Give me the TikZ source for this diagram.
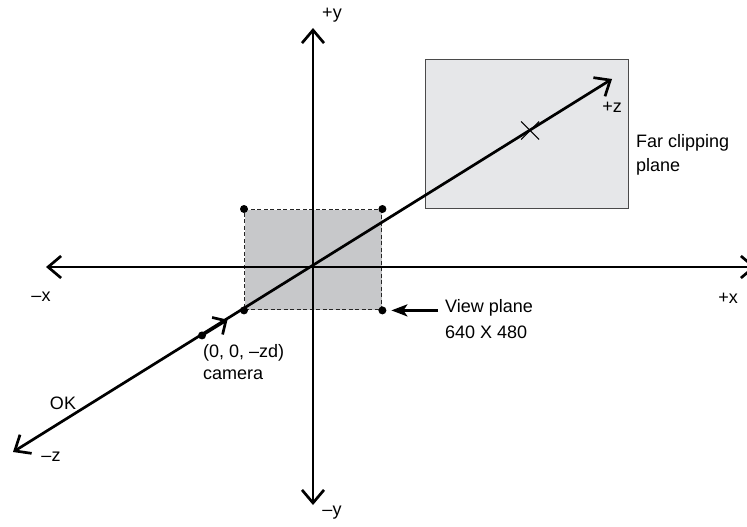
\documentclass[tikz,border=0pt]{standalone}
\usepackage{fontspec}
\setmainfont{Liberation Sans}
\usetikzlibrary{arrows.meta,calc}
\definecolor{nearfill}{HTML}{C7C8CA}
\definecolor{farfill}{HTML}{E6E7E9}
\definecolor{farline}{HTML}{4A4A4A}
\begin{document}
\begin{tikzpicture}[x=1pt,y=-1pt,
  axis/.style={line width=2.7pt, {Straight Barb[length=13pt,width=22pt]}-{Straight Barb[length=13pt,width=22pt]}},
  lbl/.style={inner sep=0pt, font=\fontsize{18}{24}\selectfont},
  dot/.style={circle, fill=black, inner sep=0pt, minimum size=8pt},
  nearplane/.style={draw=black!85, fill=nearfill, line width=1.4pt, dash pattern=on 4pt off 2.5pt, inner sep=0pt, minimum width=137pt, minimum height=100pt, anchor=north west},
  farplane/.style={draw=farline, fill=farfill, line width=1.4pt, inner sep=0pt, minimum width=203pt, minimum height=149pt, anchor=north west},
]
\useasboundingbox (0,0) rectangle (747,527);
% planes
\node[farplane] (far) at (425,59) {};
\node[nearplane] (near) at (244,209) {};
% axis end points
\coordinate (O) at (313,267);
\coordinate (ytop) at (313,28);
\coordinate (ybot) at (313,505);
\coordinate (xl) at (46,267);
\coordinate (xr) at (756,267);
\coordinate (zp) at (612,79);
\coordinate (zm) at (13,452);
% axes
\draw[axis] (xl) -- (xr);
\draw[axis] (ybot) -- (ytop);
\draw[axis] (zm) -- (zp);
% points on z axis
\coordinate (camc) at ($(O)!0.37!(zm)$);
\coordinate (chev) at ($(O)!0.285!(zm)$);
\coordinate (xm) at ($(O)!0.726!(zp)$);
\draw[line width=2.7pt, -{Straight Barb[length=10pt,width=20pt]}] (camc) -- (chev);
\draw[line width=1.1pt] ($(xm)+(-9,-9)$) -- ($(xm)+(9,9)$);
\draw[line width=1.1pt] ($(xm)+(-9,9)$) -- ($(xm)+(9,-9)$);
% dots
\node[dot] (c1) at (near.north west) {};
\node[dot] (c2) at (near.north east) {};
\node[dot] (c3) at (near.south west) {};
\node[dot] (c4) at (near.south east) {};
\node[dot] (cam) at (camc) {};
% labels
\node[lbl] (py) at (332,15) {+y};
\node[lbl] (my) at (332,513) {–y};
\node[lbl] (mx) at (41,297) {–x};
\node[lbl] (px) at (728,298) {+x};
\node[lbl] (pz) at (612,107) {+z};
\node[lbl] (mz) at (51,457) {–z};
\node[lbl] (ok) at (63,403) {OK};
\node[lbl, anchor=west] (camlbl1) at (203,353) {(0, 0, –zd)};
\node[lbl, anchor=west] (camlbl2) at (203,375) {camera};
\node[lbl, anchor=west] (far1) at (636,143) {Far clipping};
\node[lbl, anchor=west] (far2) at (636,167) {plane};
\node[lbl, anchor=west] (vp1) at (445,308) {View plane};
\node[lbl, anchor=west] (vp2) at (445,332) {640 X 480};
\draw[line width=2.7pt, -{Stealth[length=16pt,width=12pt,inset=4pt]}] ([xshift=-7pt]vp1.west |- c4) -- ([xshift=9pt]c4.center);
\end{tikzpicture}
\end{document}
